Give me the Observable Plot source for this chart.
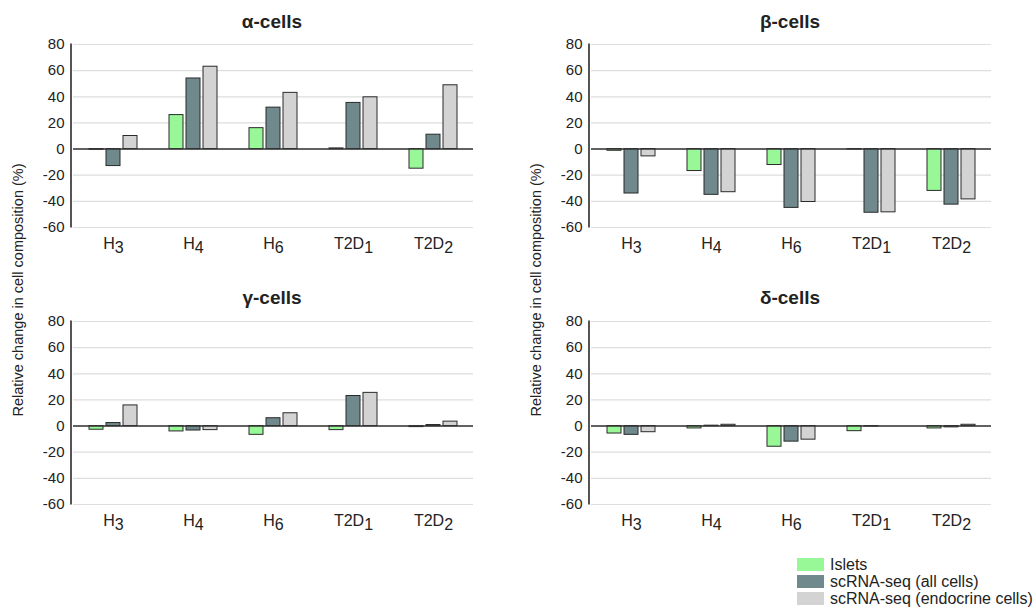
<!DOCTYPE html>
<html>
<head>
<meta charset="utf-8">
<script src="https://cdn.jsdelivr.net/npm/d3@7"></script>
<script src="https://cdn.jsdelivr.net/npm/@observablehq/plot@0.6"></script>
<style>
  html, body { margin: 0; padding: 0; background: #fff; }
  #root { position: relative; width: 1035px; height: 607px; overflow: hidden; font-family: "Liberation Sans", Arial, Helvetica, sans-serif; color: #222; }
  .panel { position: absolute; }
  .title { position: absolute; font-weight: bold; font-size: 19px; text-align: center; width: 300px; transform: translateX(-50%); }
  .ylab { position: absolute; font-size: 14.5px; white-space: nowrap; transform: translate(-50%, -50%) rotate(-90deg); }
  .leg { position: absolute; font-size: 16px; display: flex; align-items: center; height: 17px; }
  .sw { width: 27px; height: 13px; margin-right: 6px; }
</style>
</head>
<body>
<div id="root"></div>
<script>
// ---- data ----
const categories = ["H3", "H4", "H6", "T2D1", "T2D2"];
const catBase = ["H", "H", "H", "T2D", "T2D"];
const catSub = ["3", "4", "6", "1", "2"];
const series = ["Islets", "scRNA-seq (all cells)", "scRNA-seq (endocrine cells)"];
const seriesColors = ["#98f898", "#6f898c", "#d3d3d3"];
const yTicks = [-60, -40, -20, 0, 20, 40, 60, 80];
const panelTitles = ["α-cells", "β-cells", "γ-cells", "δ-cells"];

const alphaIslets = [-0.5, 26, 16, 0.5, -15];
const alphaAll    = [-13, 54, 31.7, 35.3, 11];
const alphaEndo   = [10, 63, 43, 39.6, 48.8];

const betaIslets = [-1.3, -16.8, -12.2, -0.3, -32];
const betaAll    = [-34, -35, -45, -48.7, -42.5];
const betaEndo   = [-5.6, -33, -40.5, -48.4, -38.5];

const gammaIslets = [-2.8, -4.1, -6.7, -3.1, -0.8];
const gammaAll    = [2.3, -3.4, 6, 23, 0.8];
const gammaEndo   = [15.8, -3.1, 9.8, 25.4, 3.4];

const deltaIslets = [-5.7, -1.8, -15.8, -3.9, -1.8];
const deltaAll    = [-6.7, 0.3, -11.9, -0.3, -1];
const deltaEndo   = [-4.7, 1, -10.4, 0, 1];

const panelData = [
  [alphaIslets, alphaAll, alphaEndo],
  [betaIslets, betaAll, betaEndo],
  [gammaIslets, gammaAll, gammaEndo],
  [deltaIslets, deltaAll, deltaEndo]
];

// ---- layout ----
const root = document.getElementById("root");
const panelPos = [
  {left: 0, top: 34, cx: 272, ty: 11},
  {left: 518, top: 34, cx: 790, ty: 11},
  {left: 0, top: 311, cx: 272, ty: 287},
  {left: 518, top: 311, cx: 790, ty: 287}
];

function makeRows(arrs) {
  const rows = [];
  categories.forEach((c, i) => {
    series.forEach((s, j) => rows.push({cat: c, series: s, value: arrs[j][i]}));
  });
  return rows;
}

const SVGNS = "http://www.w3.org/2000/svg";

panelData.forEach((arrs, k) => {
  const rows = makeRows(arrs);
  const chart = Plot.plot({
    width: 500,
    height: 225,
    marginLeft: 71,
    marginRight: 25,
    marginTop: 10,
    marginBottom: 32,
    style: {fontFamily: "Liberation Sans, Arial, Helvetica, sans-serif", fontSize: "15px", color: "#222", background: "white", overflow: "visible"},
    facet: {data: rows, x: "cat", marginBottom: 32},
    fx: {domain: categories, padding: 0, axis: "bottom", label: null, tickSize: 0, tickPadding: 10},
    x: {domain: series, axis: null, paddingInner: 0.17, paddingOuter: 0.83},
    y: {domain: [-60, 80], ticks: yTicks, tickSize: 0, tickPadding: 9, label: null, tickFormat: d => String(d)},
    color: {domain: series, range: seriesColors},
    marks: [
      Plot.ruleY(yTicks, {stroke: "#dedede", strokeWidth: 1.2}),
      Plot.barY(rows, {x: "series", y: "value", fill: "series", stroke: "#2a2a2a", strokeWidth: 1}),
      Plot.ruleY([0], {stroke: "#333", strokeWidth: 1.6})
    ]
  });
  chart.classList.add("panel");
  chart.style.left = panelPos[k].left + "px";
  chart.style.top = panelPos[k].top + "px";
  chart.querySelectorAll("text").forEach(t => {
    const idx = categories.indexOf(t.textContent);
    if (idx >= 0) {
      // subscripted category labels
      t.textContent = "";
      t.style.fontSize = "16px";
      const a = document.createElementNS(SVGNS, "tspan");
      a.textContent = catBase[idx];
      const b = document.createElementNS(SVGNS, "tspan");
      b.textContent = catSub[idx];
      b.setAttribute("dy", "0.25em");
      t.appendChild(a); t.appendChild(b);
    } else {
      t.style.fontSize = "15px";
    }
  });
  // y axis line, placed from the chart's own scales
  const ys = chart.scale("y");
  const fxs = chart.scale("fx");
  const x0 = Math.min(...fxs.range);
  const line = document.createElementNS(SVGNS, "line");
  line.setAttribute("x1", x0); line.setAttribute("x2", x0);
  line.setAttribute("y1", ys.apply(yTicks[0]) + 0.5);
  line.setAttribute("y2", ys.apply(yTicks[yTicks.length - 1]) - 0.5);
  line.setAttribute("stroke", "#2a2a2a");
  line.setAttribute("stroke-width", "1.6");
  chart.appendChild(line);
  root.appendChild(chart);

  const title = document.createElement("div");
  title.className = "title";
  title.textContent = panelTitles[k];
  title.style.left = panelPos[k].cx + "px";
  title.style.top = panelPos[k].ty + "px";
  root.appendChild(title);
});

// y labels
[18, 536].forEach(x => {
  const d = document.createElement("div");
  d.className = "ylab";
  d.textContent = "Relative change in cell composition (%)";
  d.style.left = x + "px";
  d.style.top = "290px";
  root.appendChild(d);
});

// legend
series.forEach((s, i) => {
  const d = document.createElement("div");
  d.className = "leg";
  d.style.left = "797px";
  d.style.top = (556 + i * 17) + "px";
  const sw = document.createElement("div");
  sw.className = "sw";
  sw.style.background = seriesColors[i];
  const tx = document.createElement("span");
  tx.textContent = s;
  d.appendChild(sw); d.appendChild(tx);
  root.appendChild(d);
});
</script>
</body>
</html>
